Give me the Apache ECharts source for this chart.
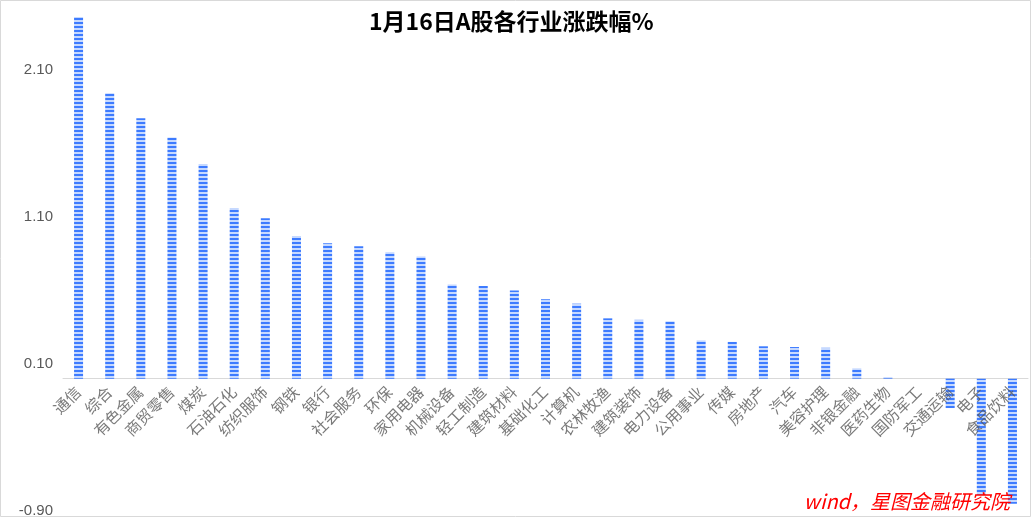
<!DOCTYPE html>
<html>
<head>
<meta charset="utf-8">
<script src="https://cdn.jsdelivr.net/npm/echarts@6/dist/echarts.min.js"></script>
<style>
html,body{margin:0;padding:0;background:#fff;}
#chart{width:1031px;height:517px;}
</style>
</head>
<body>
<div id="chart"></div>
<script>
const categories = ["通信","综合","有色金属","商贸零售","煤炭","石油石化","纺织服饰","钢铁","银行","社会服务","环保","家用电器","机械设备","轻工制造","建筑材料","基础化工","计算机","农林牧渔","建筑装饰","电力设备","公用事业","传媒","房地产","汽车","美容护理","非银金融","医药生物","国防军工","交通运输","电子","食品饮料"];
const values = [2.46,1.94,1.77,1.64,1.46,1.16,1.09,0.97,0.92,0.90,0.86,0.83,0.64,0.63,0.60,0.54,0.51,0.41,0.40,0.39,0.26,0.25,0.22,0.215,0.21,0.07,0.01,0.00,-0.20,-0.79,-0.85];
const yTickLabels = ["-0.90","0.10","1.10","2.10"];
const titleText = "1月16日A股各行业涨跌幅%";
const sourceText = "wind，星图金融研究院";

const pc = document.createElement('canvas');
pc.width = 4; pc.height = 4;
const pctx = pc.getContext('2d');
pctx.fillStyle = '#C6D9FF'; pctx.fillRect(0,0,4,4);
pctx.fillStyle = '#3D7BFF'; pctx.fillRect(0,2,4,2);

const chart = echarts.init(document.getElementById('chart'), null, {renderer:'canvas'});
chart.setOption({
  animation:false,
  backgroundColor:'#fff',
  title:{text:titleText,left:364,top:5,textStyle:{fontSize:23,fontWeight:'bold',color:'#000',fontFamily:'Noto Sans CJK SC'}},
  grid:{left:63,right:3,top:11,bottom:6,containLabel:false,outerBoundsMode:'none'},
  xAxis:{type:'category',data:categories,
    axisLine:{onZero:true,lineStyle:{color:'#d9d9d9',width:1}},
    axisTick:{show:false},
    axisLabel:{show:false}},
  yAxis:{type:'value',min:-0.9,max:2.5,interval:1,
    axisLine:{show:false},axisTick:{show:false},splitLine:{show:false},
    axisLabel:{showMaxLabel:false,fontSize:15,color:'#595959',fontFamily:'Liberation Sans',margin:10,
      formatter:function(v){const s=v.toFixed(2);return yTickLabels.indexOf(s)>=0?s:'';}}},
  series:[
    {type:'bar',data:values,barWidth:9,itemStyle:{color:{image:pc,repeat:'repeat'}}},
    {type:'scatter',data:categories.map(function(c,i){return [i,0];}),symbolSize:1,
      itemStyle:{color:'rgba(0,0,0,0)'},silent:true,z:10,
      labelLayout:{hideOverlap:false},
      label:{show:true,position:[0,11],rotate:45,align:'right',verticalAlign:'middle',
        fontSize:15.5,color:'#595959',fontFamily:'Noto Sans CJK SC',
        formatter:function(p){return categories[p.dataIndex];}}}
  ],
  graphic:[
    {type:'rect',shape:{x:0.5,y:0.5,width:1030,height:516},style:{fill:'none',stroke:'#d9d9d9',lineWidth:1},z:100},
    {type:'text',right:21,top:491,style:{text:sourceText,fill:'#ff0000',font:'italic 20px "Noto Sans CJK SC"'},z:100}
  ]
});
</script>
</body>
</html>
